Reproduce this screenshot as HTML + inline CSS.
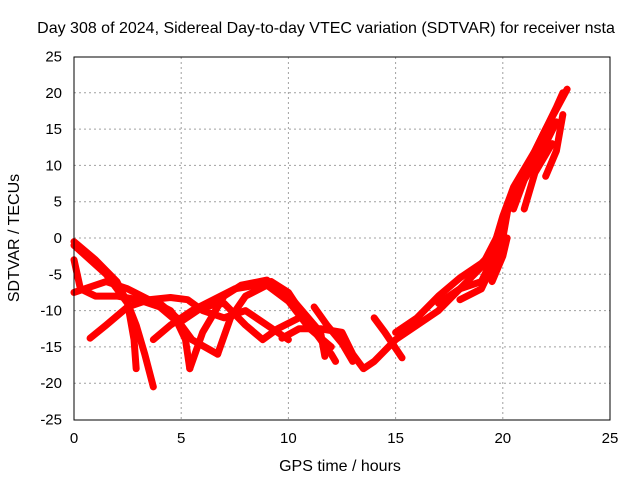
<!DOCTYPE html>
<html><head><meta charset="utf-8"><style>
body{margin:0;background:#fff}
svg{display:block;font-family:"Liberation Sans",sans-serif;font-size:15px}
</style></head><body>
<svg id="c" width="640" height="480">
<text x="326" y="33" text-anchor="middle" font-size="16">Day 308 of 2024, Sidereal Day-to-day VTEC variation (SDTVAR) for receiver nsta</text>
<text x="340" y="471" text-anchor="middle" font-size="16">GPS time / hours</text>
<text transform="translate(19,238) rotate(-90)" text-anchor="middle" font-size="16">SDTVAR / TECUs</text>
<g id="grid"></g><g id="ticks"></g><g id="series"></g>
<rect x="74" y="57" width="536" height="363" fill="none" stroke="#000" stroke-width="1"/>
</svg>
<script>
const xTicks=[0,5,10,15,20,25];
const yTicks=[25,20,15,10,5,0,-5,-10,-15,-20,-25];
const s1=[[0,-0.5],[1,-3],[2,-6],[2.5,-9],[2.9,-12],[3.3,-16],[3.7,-20.5]];
const s2=[[0,-1],[1.5,-5],[2.5,-9],[2.8,-14],[2.9,-18]];
const s3=[[0,-3],[0.3,-7],[1,-8],[2,-8],[3,-8.5],[4,-9.5],[4.8,-11.5],[5.2,-14],[5.4,-18]];
const s4=[[0,-7.5],[0.5,-7],[1.5,-6],[2.5,-7],[3.5,-8.5],[4.5,-8.2],[5.3,-8.5],[6,-10],[7,-11],[8,-10],[9,-12],[10,-14]];
const s5=[[0.75,-13.8],[1.5,-12],[2.5,-9.5],[3.5,-8.5],[4.5,-10],[5.5,-14],[6.7,-16]];
const s6=[[3.7,-14],[4.5,-12],[5.5,-10],[6.5,-8.5],[7.5,-7],[8.5,-6.5],[9.2,-6],[10,-7.5],[11,-12],[12,-16],[12.2,-17]];
const s7=[[5.4,-18],[6,-13],[7,-8],[7.8,-6.5],[9,-5.8],[10.2,-8.5],[11.5,-13],[11.7,-16.3]];
const s8=[[6.7,-16],[7.3,-11],[8,-8],[9,-6.5],[10,-8.7],[11,-12.5],[12,-15]];
const s9=[[4,-9],[5,-11.5],[6,-9.5],[7,-9],[8,-12],[8.8,-14],[9.5,-12.5],[10.5,-11]];
const s10=[[9.7,-13.8],[10.5,-12.5],[11.5,-12.5],[12.5,-13],[13,-16],[13.5,-18],[14,-17],[15,-14],[16,-12],[17,-10],[18,-7],[19,-4],[19.7,0],[20.3,5],[21,9],[22,15],[23,20.5]];
const s11=[[11.2,-9.5],[11.8,-12],[12.5,-14.5],[13,-17]];
const s12=[[14,-11],[14.5,-13],[15.3,-16.5]];
const s13=[[15,-13],[16,-11],[17,-8],[18,-5.5],[19,-3.5],[19.5,-2],[20,3],[20.5,7],[21.5,12],[22.5,18],[22.8,20]];
const s14=[[17,-9],[18,-7],[19,-6],[19.5,-3],[20,0],[20.3,5]];
const s15=[[18,-8.5],[19,-7],[19.8,-2]];
const s16=[[19.5,-6],[20,-2.5],[20.2,0]];
const s17=[[21,4],[21.5,9],[22.3,13]];
const s18=[[22,8.5],[22.5,12],[22.8,17]];
const s19=[[20.5,4],[21,8],[22,13],[22.5,16]];
const allSeries=[s1,s2,s3,s4,s5,s6,s7,s8,s9,s10,s11,s12,s13,s14,s15,s16,s17,s18,s19];
const X=v=>74+v*536/25, Y=v=>238-v*363/50;
const NS='http://www.w3.org/2000/svg';
const g=document.getElementById('grid'),t=document.getElementById('ticks'),sg=document.getElementById('series');
function mk(tag,at,par){const e=document.createElementNS(NS,tag);for(const k in at)e.setAttribute(k,at[k]);par.appendChild(e);return e;}
xTicks.forEach(v=>{
 if(v>0&&v<25){const l=mk('line',{x1:X(v),x2:X(v),y1:57,y2:420,stroke:'#a0a0a0','stroke-dasharray':'2,3'},g);
 
 }
 const tx=mk('text',{x:X(v),y:443,'text-anchor':'middle'},t);tx.textContent=v;
 
 
});
yTicks.forEach(v=>{
 if(v>-25&&v<25){const l=mk('line',{x1:74,x2:610,y1:Y(v),y2:Y(v),stroke:'#a0a0a0','stroke-dasharray':'2,3'},g);
 
 }
 const tx=mk('text',{x:62,y:Y(v)+5,'text-anchor':'end'},t);tx.textContent=v;
 
 
});
allSeries.forEach((s,i)=>{
 const p=mk('polyline',{points:s.map(d=>X(d[0])+','+Y(d[1])).join(' '),fill:'none',stroke:'#ff0000','stroke-width':7,'stroke-linejoin':'round','stroke-linecap':'round'},sg);
 
 
});
</script>
</body></html>
